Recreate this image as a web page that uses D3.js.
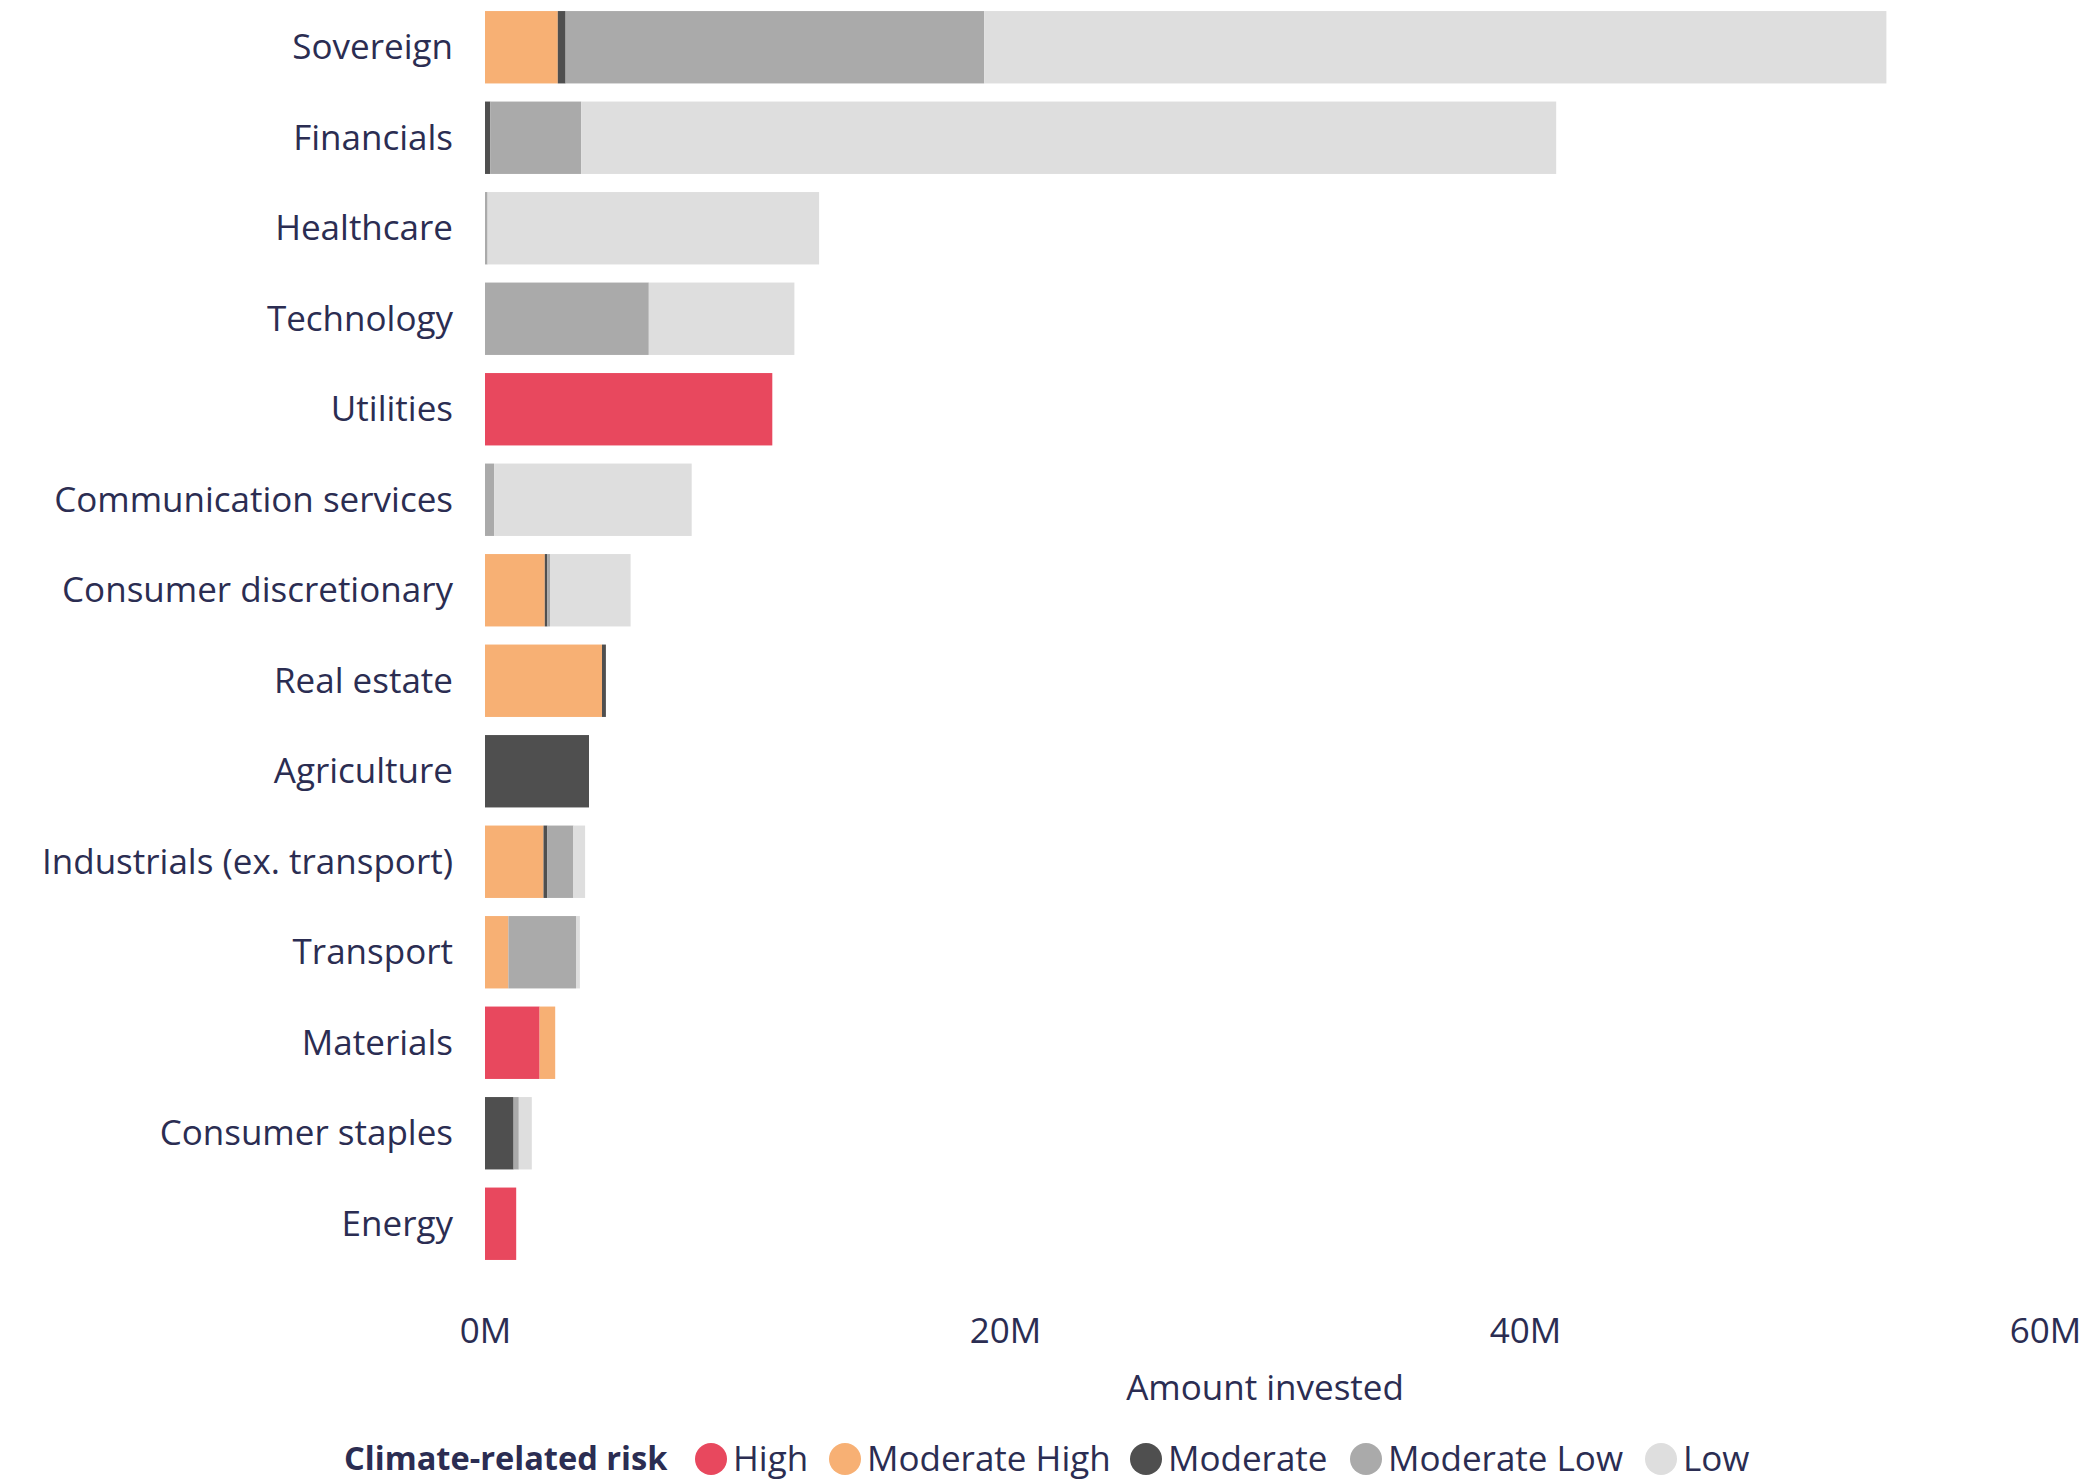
<!DOCTYPE html>
<html>
<head>
<meta charset="utf-8">
<script src="https://cdn.jsdelivr.net/npm/d3@7"></script>
<style>
  html, body { margin: 0; padding: 0; background: #fff; }
  svg { display: block; }
  text { font-family: "Open Sans", Lato, sans-serif; fill: #2b2d52; }
</style>
</head>
<body>
<svg id="chart" width="2089" height="1484"></svg>
<script>
const categories = ["Sovereign","Financials","Healthcare","Technology","Utilities","Communication services","Consumer discretionary","Real estate","Agriculture","Industrials (ex. transport)","Transport","Materials","Consumer staples","Energy"];
const riskLevels = ["High","Moderate High","Moderate","Moderate Low","Low"];
const riskColors = ["#e8485e","#f7b074","#4f4f4f","#aaaaaa","#dedede"];
// values in millions, per category (same order as categories)
const high         = [0,   0,   0,    0,   11.05, 0,    0,   0,   0,   0,    0,   2.1, 0,   1.2];
const moderateHigh = [2.8, 0,   0,    0,   0,     0,    2.3, 4.5, 0,   2.25, 0.9, 0.6, 0,   0];
const moderate     = [0.3, 0.2, 0,    0,   0,     0,    0.1, 0.15,4.0, 0.15, 0,   0,   1.1, 0];
const moderateLow  = [16.1,3.5, 0.1,  6.3, 0,     0.35, 0.1, 0,   0,   1.0,  2.6, 0,   0.2, 0];
const low          = [34.7,37.5,12.75,5.6, 0,     7.6,  3.1, 0,   0,   0.45, 0.15,0,   0.5, 0];
const xTicks = [0, 20, 40, 60];

const table = categories.map((c, i) => ({
  category: c,
  "High": high[i],
  "Moderate High": moderateHigh[i],
  "Moderate": moderate[i],
  "Moderate Low": moderateLow[i],
  "Low": low[i]
}));

const FONT = "'Open Sans', Lato, sans-serif";
const FS = "35px";

const svg = d3.select("#chart");
const x = d3.scaleLinear().domain([0, 60]).range([485, 2045]);
const y = d3.scaleBand().domain(categories).range([2, 1269]).paddingInner(0.2).paddingOuter(0.1);
const color = d3.scaleOrdinal().domain(riskLevels).range(riskColors);

const series = d3.stack().keys(riskLevels)(table);

svg.append("g").selectAll("g").data(series).join("g")
  .attr("fill", d => color(d.key))
  .selectAll("rect").data(d => d).join("rect")
  .attr("x", d => x(d[0]))
  .attr("y", d => y(d.data.category))
  .attr("width", d => Math.max(0, x(d[1]) - x(d[0])))
  .attr("height", y.bandwidth());

// y axis labels
const yAxis = svg.append("g").attr("transform", `translate(${x(0) - 32},1)`)
  .call(d3.axisLeft(y).tickSize(0).tickPadding(0));
yAxis.select(".domain").remove();
yAxis.selectAll("text").style("font-size", FS).style("fill", "#2b2d52").style("font-family", FONT);

// x axis
const xAxis = svg.append("g").attr("transform", `translate(0,1318)`)
  .call(d3.axisBottom(x).tickValues(xTicks).tickFormat(d => d + "M").tickSize(0).tickPadding(0));
xAxis.select(".domain").remove();
xAxis.selectAll("text").style("font-size", FS).style("fill", "#2b2d52").style("font-family", FONT);

svg.append("text")
  .attr("x", (x(0) + x(60)) / 2).attr("y", 1400)
  .attr("text-anchor", "middle")
  .style("font-size", FS)
  .text("Amount invested");

// legend
const lg = svg.append("g").attr("transform", "translate(0,1459)");
lg.append("text").attr("x", 344).attr("y", 0).attr("dy", "0.35em")
  .style("font-size", "32.6px").style("font-weight", "bold").text("Climate-related risk");
const legendX = [711, 845, 1146, 1366, 1661];
const items = lg.selectAll("g.item").data(riskLevels).join("g").attr("class", "item")
  .attr("transform", (d, i) => `translate(${legendX[i]},0)`);
items.append("circle").attr("r", 16).attr("fill", d => color(d));
items.append("text").attr("x", 22).attr("dy", "0.35em").style("font-size", FS).text(d => d);
</script>
</body>
</html>
